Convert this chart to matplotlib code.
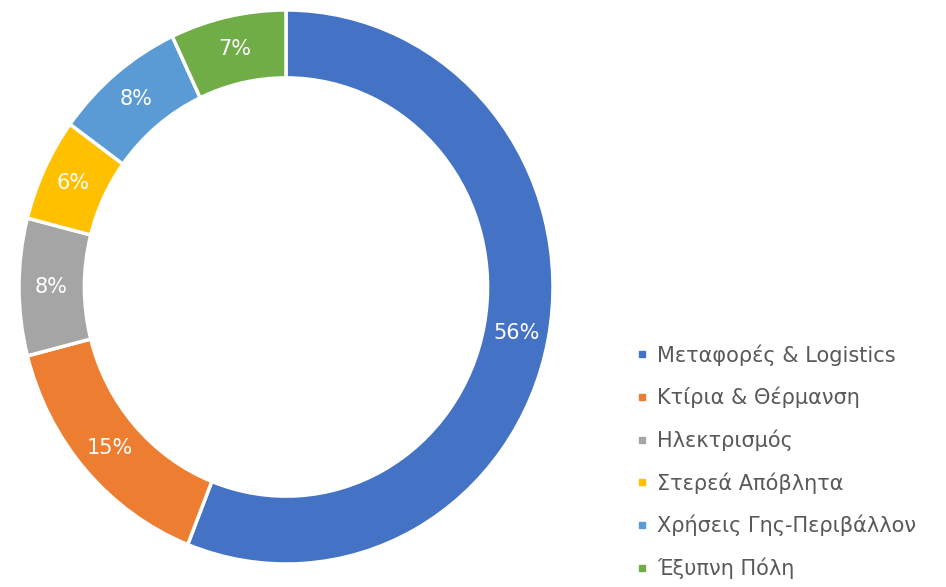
import matplotlib.pyplot as plt
from matplotlib.lines import Line2D

labels = ['Μεταφορές & Logistics', 'Κτίρια & Θέρμανση', 'Ηλεκτρισμός',
          'Στερεά Απόβλητα', 'Χρήσεις Γης-Περιβάλλον', 'Έξυπνη Πόλη']
values = [56, 15, 8, 6, 8, 7]
colors = ['#4472C4', '#ED7D31', '#A5A5A5', '#FFC000', '#5B9BD5', '#70AD47']

plt.rcParams['font.family'] = ['DejaVu Sans']

fig = plt.figure(figsize=(9.46, 5.87), dpi=100)
# ring drawn slightly taller than wide, like the reference
ax = fig.add_axes([19 / 946, 23 / 587, 534 / 946, 554 / 587])

wedges, texts, autotexts = ax.pie(
    values, colors=colors, startangle=90, counterclock=False,
    autopct='%1.0f%%', pctdistance=0.88,
    wedgeprops=dict(width=0.245, edgecolor='white', linewidth=2.5),
    textprops=dict(color='white', fontsize=15))
ax.set_aspect('auto')
ax.set_xlim(-1, 1)
ax.set_ylim(-1, 1)
ax.axis('off')

handles = [Line2D([], [], linestyle='none', marker='s', markersize=5,
                  markerfacecolor=c, markeredgecolor=c) for c in colors]
fig.legend(handles, labels, loc='upper left', bbox_to_anchor=(636 / 946, 1 - 344 / 587),
           frameon=False, fontsize=15, labelcolor='#595959', handlelength=0.6,
           handletextpad=0.4, labelspacing=1.02, borderpad=0, borderaxespad=0)

fig.savefig('out.png', dpi=100)
